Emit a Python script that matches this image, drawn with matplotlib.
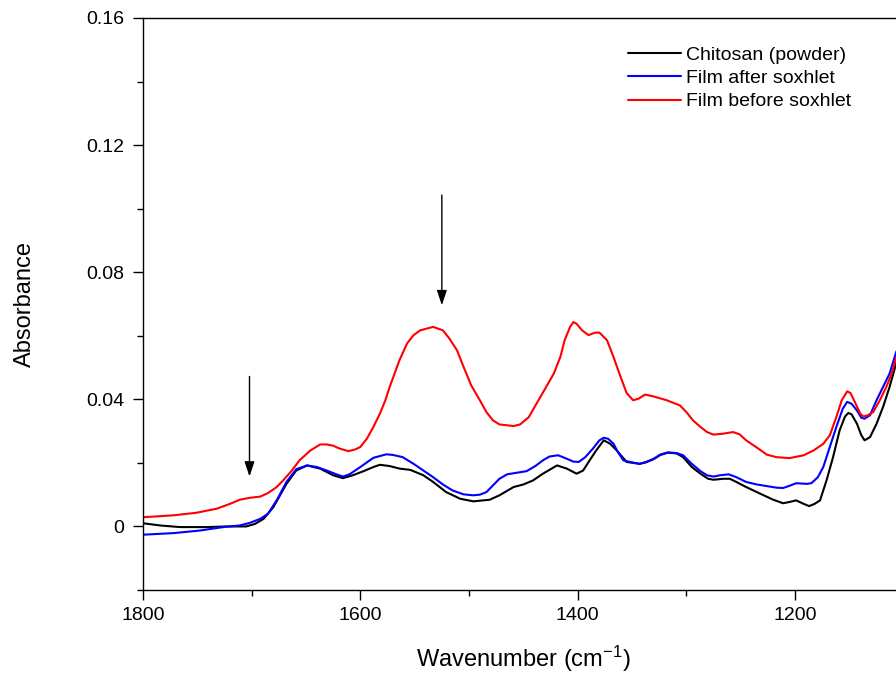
import matplotlib
matplotlib.use("Agg")
import matplotlib.pyplot as plt

plt.rcParams['font.family'] = ['Liberation Sans', 'DejaVu Sans']
plt.rcParams['mathtext.fontset'] = 'custom'
plt.rcParams['mathtext.rm'] = 'Liberation Sans'

# Chitosan (powder) - black
wn_chitosan = [1800, 1784, 1766, 1741, 1723, 1705, 1697, 1689, 1680, 1668, 1659, 1649, 1637,
               1625, 1616, 1607, 1597, 1588, 1582, 1573, 1564, 1554, 1542, 1533, 1521, 1508,
               1496, 1481, 1472, 1459, 1450, 1441, 1432, 1419, 1410, 1401, 1395, 1389, 1383,
               1376, 1370, 1364, 1355, 1343, 1337, 1330, 1324, 1317, 1309, 1303, 1295, 1287,
               1280, 1275, 1266, 1260, 1254, 1245, 1232, 1220, 1211, 1205, 1199, 1192, 1187,
               1182, 1177, 1171, 1165, 1159, 1154, 1151, 1148, 1143, 1139, 1136, 1131, 1125,
               1119, 1113, 1107, 1100]
abs_chitosan = [0.0010, 0.0003, -0.0002, -0.0002, 0.0000, 0.0000, 0.0008, 0.0024, 0.0061,
                0.0134, 0.0176, 0.0192, 0.0182, 0.0161, 0.0152, 0.0161, 0.0174, 0.0187,
                0.0194, 0.0190, 0.0182, 0.0178, 0.0161, 0.0140, 0.0108, 0.0087, 0.0079,
                0.0084, 0.0098, 0.0124, 0.0132, 0.0145, 0.0166, 0.0192, 0.0182, 0.0166,
                0.0176, 0.0208, 0.0239, 0.0271, 0.0260, 0.0239, 0.0203, 0.0197, 0.0202,
                0.0212, 0.0225, 0.0232, 0.0230, 0.0218, 0.0187, 0.0166, 0.0150, 0.0147,
                0.0150, 0.0150, 0.0140, 0.0124, 0.0103, 0.0084, 0.0073, 0.0077, 0.0082,
                0.0071, 0.0064, 0.0071, 0.0082, 0.0145, 0.0218, 0.0302, 0.0346, 0.0357,
                0.0353, 0.0323, 0.0287, 0.0271, 0.0281, 0.0323, 0.0376, 0.0439, 0.0512,
                0.0570]

# Film after soxhlet - blue
wn_after = [1800, 1772, 1748, 1726, 1711, 1702, 1692, 1685, 1677, 1668, 1659, 1649, 1640,
            1631, 1622, 1616, 1610, 1600, 1588, 1576, 1570, 1561, 1551, 1542, 1533, 1524,
            1515, 1505, 1496, 1490, 1484, 1478, 1472, 1465, 1456, 1447, 1439, 1432, 1426,
            1418, 1410, 1404, 1399, 1393, 1386, 1380, 1376, 1372, 1367, 1363, 1358, 1352,
            1343, 1337, 1330, 1324, 1317, 1309, 1303, 1295, 1287, 1281, 1275, 1269, 1261,
            1254, 1245, 1235, 1226, 1217, 1211, 1205, 1199, 1189, 1185, 1179, 1174, 1168,
            1162, 1156, 1152, 1148, 1143, 1139, 1136, 1131, 1125, 1119, 1113, 1107, 1100]
abs_after = [-0.0026, -0.0021, -0.0013, -0.0002, 0.0003, 0.0011, 0.0024, 0.0040, 0.0082,
             0.0140, 0.0180, 0.0192, 0.0187, 0.0176, 0.0164, 0.0157, 0.0164, 0.0187,
             0.0216, 0.0227, 0.0225, 0.0218, 0.0197, 0.0176, 0.0155, 0.0132, 0.0113,
             0.0101, 0.0098, 0.0100, 0.0108, 0.0129, 0.0150, 0.0164, 0.0169, 0.0174,
             0.0190, 0.0208, 0.0220, 0.0224, 0.0213, 0.0204, 0.0203, 0.0218, 0.0245,
             0.0271, 0.0279, 0.0276, 0.0260, 0.0234, 0.0208, 0.0203, 0.0197, 0.0203,
             0.0213, 0.0226, 0.0233, 0.0231, 0.0224, 0.0197, 0.0174, 0.0161, 0.0157,
             0.0161, 0.0164, 0.0155, 0.0140, 0.0132, 0.0127, 0.0122, 0.0121, 0.0128,
             0.0136, 0.0134, 0.0136, 0.0155, 0.0187, 0.0250, 0.0313, 0.0371, 0.0392,
             0.0386, 0.0365, 0.0342, 0.0339, 0.0350, 0.0397, 0.0439, 0.0481, 0.0548,
             0.0600]

# Film before soxhlet - red
wn_before = [1800, 1772, 1751, 1732, 1720, 1711, 1702, 1692, 1685, 1677, 1671, 1663, 1656,
             1646, 1637, 1631, 1625, 1619, 1611, 1605, 1600, 1594, 1588, 1582, 1577, 1573,
             1564, 1557, 1551, 1545, 1533, 1524, 1518, 1511, 1505, 1498, 1490, 1484, 1478,
             1472, 1459, 1453, 1445, 1438, 1429, 1422, 1416, 1412, 1407, 1404, 1401, 1396,
             1390, 1384, 1380, 1373, 1367, 1361, 1355, 1349, 1344, 1338, 1330, 1318, 1306,
             1300, 1294, 1287, 1281, 1275, 1266, 1257, 1251, 1245, 1235, 1226, 1217, 1205,
             1192, 1183, 1174, 1168, 1162, 1157, 1152, 1149, 1145, 1140, 1137, 1133, 1128,
             1122, 1116, 1111, 1107, 1100]
abs_before = [0.0029, 0.0035, 0.0043, 0.0056, 0.0071, 0.0084, 0.0090, 0.0094, 0.0105,
              0.0124, 0.0145, 0.0176, 0.0208, 0.0239, 0.0258, 0.0258, 0.0254, 0.0245,
              0.0237, 0.0242, 0.0250, 0.0276, 0.0313, 0.0355, 0.0397, 0.0439, 0.0523,
              0.0576, 0.0602, 0.0617, 0.0628, 0.0617, 0.0591, 0.0554, 0.0502, 0.0444,
              0.0397, 0.0360, 0.0334, 0.0321, 0.0316, 0.0321, 0.0344, 0.0386, 0.0439,
              0.0481, 0.0533, 0.0586, 0.0628, 0.0643, 0.0638, 0.0617, 0.0602, 0.0610,
              0.0610, 0.0586, 0.0533, 0.0475, 0.0420, 0.0397, 0.0402, 0.0415, 0.0409,
              0.0397, 0.0381, 0.0360, 0.0334, 0.0313, 0.0297, 0.0289, 0.0292, 0.0297,
              0.0290, 0.0271, 0.0248, 0.0226, 0.0218, 0.0215, 0.0224, 0.0239, 0.0260,
              0.0287, 0.0344, 0.0397, 0.0425, 0.0420, 0.0392, 0.0355, 0.0346, 0.0350,
              0.0360, 0.0397, 0.0439, 0.0481, 0.0530, 0.0580]

# Arrows (x, y_start, y_end)
arrow_x = [1702, 1525]
arrow_y_start = [0.0472, 0.1043]
arrow_y_end = [0.0157, 0.0696]

fig = plt.figure(figsize=(8.96, 6.73), dpi=100)
ax = fig.add_axes([143/896, 1-590/673, (903.7-143)/896, (590-18)/673])

lw = 1.5
kw = dict(lw=lw, solid_joinstyle='round', solid_capstyle='round')
ax.plot(wn_chitosan, abs_chitosan, color='black', label='Chitosan (powder)', **kw)
ax.plot(wn_after, abs_after, color='#0000ff', label='Film after soxhlet', **kw)
ax.plot(wn_before, abs_before, color='#ff0000', label='Film before soxhlet', **kw)

for xa, ys, ye in zip(arrow_x, arrow_y_start, arrow_y_end):
    ax.annotate('', xy=(xa, ye), xytext=(xa, ys),
                arrowprops=dict(arrowstyle='-|>,head_length=0.9,head_width=0.3',
                                color='black', lw=1.0, shrinkA=0, shrinkB=0))

ax.set_xlim(1800, 1100)
ax.set_ylim(-0.02, 0.16)
ax.set_xticks([1800, 1600, 1400, 1200])
ax.set_xticks([1700, 1500, 1300, 1100], minor=True)
ax.set_yticks([0, 0.04, 0.08, 0.12, 0.16])
ax.set_yticklabels(['0', '0.04', '0.08', '0.12', '0.16'])
ax.set_yticks([-0.02, 0.02, 0.06, 0.10, 0.14], minor=True)
ax.tick_params(which='major', direction='out', length=7.5, width=1, labelsize=14, pad=6)
ax.tick_params(axis='x', which='major', pad=5)
ax.tick_params(which='minor', direction='out', length=4, width=1)
for s in ax.spines.values():
    s.set_linewidth(1)

ax.set_xlabel(r'Wavenumber (cm$\mathregular{^{-1}}$)', fontsize=17, labelpad=14)
ax.set_ylabel('Absorbance', fontsize=17, labelpad=36)

ax.legend(loc='upper left', bbox_to_anchor=(628/896, 1-46/673), bbox_transform=fig.transFigure,
          frameon=False, fontsize=14, handlelength=2.7, handletextpad=0.3,
          labelspacing=0.3, borderpad=0, borderaxespad=0)

fig.savefig('out.png', dpi=100)
